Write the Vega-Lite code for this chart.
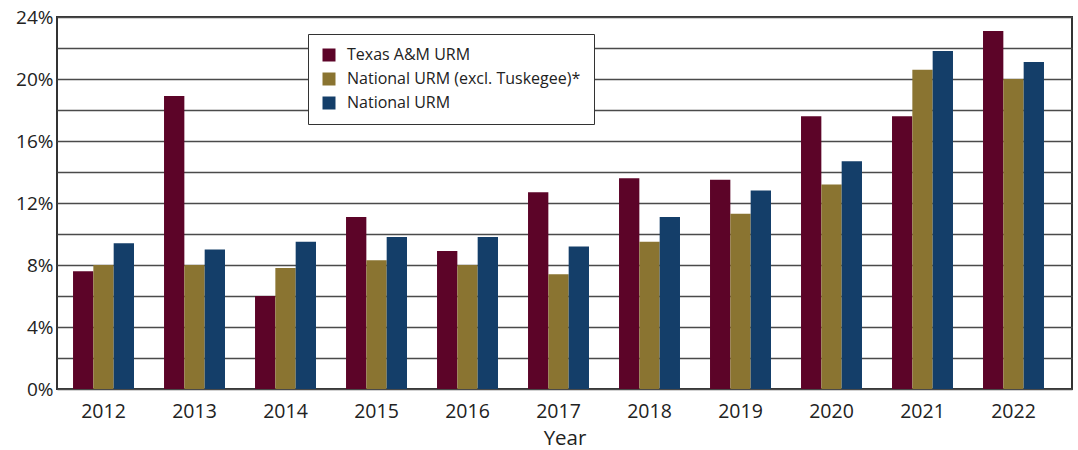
{
  "$schema": "https://vega.github.io/schema/vega-lite/v6.json",
  "width": 1015,
  "height": 372,
  "autosize": {"type": "none"},
  "padding": {"left": 57, "top": 17, "right": 6, "bottom": 61},
  "config": {
    "font": "Open Sans",
    "view": {"stroke": "#333333", "strokeWidth": 2},
    "axis": {"labelColor": "#222222", "titleColor": "#222222", "domain": false, "ticks": false}
  },
  "data": {
    "values": [
      {"Year": "2012", "Series": "Texas A&M URM", "Value": 7.6},
      {"Year": "2012", "Series": "National URM (excl. Tuskegee)*", "Value": 8.0},
      {"Year": "2012", "Series": "National URM", "Value": 9.4},
      {"Year": "2013", "Series": "Texas A&M URM", "Value": 18.9},
      {"Year": "2013", "Series": "National URM (excl. Tuskegee)*", "Value": 8.0},
      {"Year": "2013", "Series": "National URM", "Value": 9.0},
      {"Year": "2014", "Series": "Texas A&M URM", "Value": 6.0},
      {"Year": "2014", "Series": "National URM (excl. Tuskegee)*", "Value": 7.8},
      {"Year": "2014", "Series": "National URM", "Value": 9.5},
      {"Year": "2015", "Series": "Texas A&M URM", "Value": 11.1},
      {"Year": "2015", "Series": "National URM (excl. Tuskegee)*", "Value": 8.3},
      {"Year": "2015", "Series": "National URM", "Value": 9.8},
      {"Year": "2016", "Series": "Texas A&M URM", "Value": 8.9},
      {"Year": "2016", "Series": "National URM (excl. Tuskegee)*", "Value": 8.0},
      {"Year": "2016", "Series": "National URM", "Value": 9.8},
      {"Year": "2017", "Series": "Texas A&M URM", "Value": 12.7},
      {"Year": "2017", "Series": "National URM (excl. Tuskegee)*", "Value": 7.4},
      {"Year": "2017", "Series": "National URM", "Value": 9.2},
      {"Year": "2018", "Series": "Texas A&M URM", "Value": 13.6},
      {"Year": "2018", "Series": "National URM (excl. Tuskegee)*", "Value": 9.5},
      {"Year": "2018", "Series": "National URM", "Value": 11.1},
      {"Year": "2019", "Series": "Texas A&M URM", "Value": 13.5},
      {"Year": "2019", "Series": "National URM (excl. Tuskegee)*", "Value": 11.3},
      {"Year": "2019", "Series": "National URM", "Value": 12.8},
      {"Year": "2020", "Series": "Texas A&M URM", "Value": 17.6},
      {"Year": "2020", "Series": "National URM (excl. Tuskegee)*", "Value": 13.2},
      {"Year": "2020", "Series": "National URM", "Value": 14.7},
      {"Year": "2021", "Series": "Texas A&M URM", "Value": 17.6},
      {"Year": "2021", "Series": "National URM (excl. Tuskegee)*", "Value": 20.6},
      {"Year": "2021", "Series": "National URM", "Value": 21.8},
      {"Year": "2022", "Series": "Texas A&M URM", "Value": 23.1},
      {"Year": "2022", "Series": "National URM (excl. Tuskegee)*", "Value": 20.0},
      {"Year": "2022", "Series": "National URM", "Value": 21.1}
    ]
  },
  "mark": {"type": "bar"},
  "encoding": {
    "x": {
      "field": "Year",
      "type": "nominal",
      "scale": {"paddingInner": 0.33, "paddingOuter": 0.242, "align": 0.364},
      "axis": {"labelAngle": 0, "labelFontSize": 19.5, "labelPadding": 13, "title": "Year", "titleFontSize": 20.5, "titleFontWeight": "normal", "titlePadding": 8, "grid": false}
    },
    "xOffset": {
      "field": "Series",
      "type": "nominal",
      "sort": ["Texas A&M URM", "National URM (excl. Tuskegee)*", "National URM"],
      "scale": {"paddingInner": 0, "paddingOuter": 0}
    },
    "y": {
      "field": "Value",
      "type": "quantitative",
      "scale": {"domain": [0, 24], "nice": false},
      "axis": {
        "title": null,
        "values": [0, 2, 4, 6, 8, 10, 12, 14, 16, 18, 20, 22, 24],
        "labelExpr": "datum.value % 4 == 0 ? datum.value + '%' : ''",
        "labelFontSize": 19,
        "labelPadding": 4,
        "grid": true,
        "gridColor": "#4a4a4a",
        "gridWidth": 1.3,
        "gridOpacity": 1
      }
    },
    "color": {
      "field": "Series",
      "type": "nominal",
      "scale": {
        "domain": ["Texas A&M URM", "National URM (excl. Tuskegee)*", "National URM"],
        "range": ["#5c0428", "#8a7431", "#143e69"]
      },
      "legend": {
        "title": null,
        "orient": "none",
        "legendX": 251,
        "legendY": 17,
        "symbolType": "square",
        "symbolSize": 169,
        "symbolStrokeWidth": 0,
        "labelFontSize": 16,
        "labelColor": "#222222",
        "labelOffset": 10,
        "rowPadding": 8,
        "padding": 13,
        "strokeColor": "#333333",
        "fillColor": "#ffffff",
        "labelLimit": 400
      }
    }
  }
}
